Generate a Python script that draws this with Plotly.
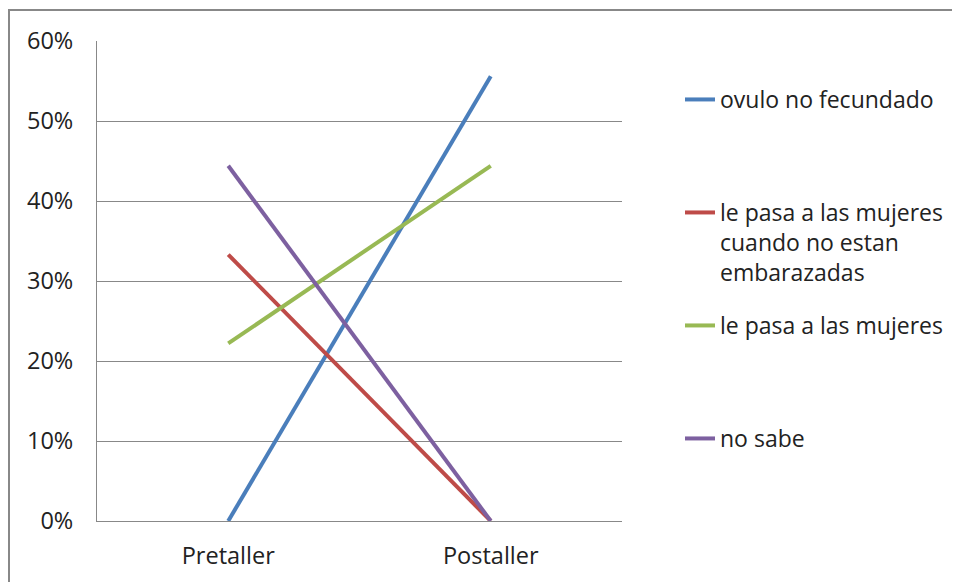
import plotly.graph_objects as go

categories = ["Pretaller", "Postaller"]
series_names = [
    "ovulo no fecundado",
    "le pasa a las mujeres<br>cuando no estan<br>embarazadas",
    "le pasa a las mujeres",
    "no sabe",
]
ovulo = [0.0, 0.556]
cuando_no = [0.333, 0.0]
le_pasa = [0.222, 0.444]
no_sabe = [0.444, 0.0]
series_values = [ovulo, cuando_no, le_pasa, no_sabe]
colors = ["#4A7EBB", "#BE4B48", "#98B954", "#7D60A0"]
y_ticks = [0, 0.1, 0.2, 0.3, 0.4, 0.5, 0.6]
y_tick_labels = ["0%", "10%", "20%", "30%", "40%", "50%", "60%"]

W, H = 960, 582
OFF = 8  # page body margin
FONT = "'Open Sans', sans-serif"

# plot area in page pixels
PL, PR, PT, PB = 97, 622, 41, 521
pw, ph = PR - PL, PB - PT

fig = go.Figure()
legend_names = ["legend", "legend2", "legend3", "legend4"]
legend_y_px = [98, 211, 324, 437]
for name, vals, col, lg in zip(series_names, series_values, colors, legend_names):
    fig.add_trace(go.Scatter(
        x=categories, y=vals, mode="lines", name=name,
        line=dict(color=col, width=4), legend=lg,
    ))

layout_legends = {}
for lg, ypx in zip(legend_names, legend_y_px):
    layout_legends[lg] = dict(
        xref="container", yref="container",
        x=(720 - 40 - OFF) / W, y=1 - (ypx - OFF - 20) / H,
        xanchor="left", yanchor="top",
        bgcolor="rgba(0,0,0,0)", borderwidth=0,
        font=dict(family=FONT, size=23, color="#222"),
        valign="top", tracegroupgap=0,
    )

fig.update_layout(
    width=W, height=H,
    margin=dict(l=PL - OFF, r=W - (PR - OFF), t=PT - OFF, b=H - (PB - OFF)),
    paper_bgcolor="white", plot_bgcolor="white",
    showlegend=True,
    font=dict(family=FONT, size=23, color="#222"),
    xaxis=dict(
        type="category", range=[-0.5, 1.5], showgrid=False,
        showline=True, linecolor="#888", linewidth=1,
        ticks="", tickfont=dict(family=FONT, size=23.5, color="#222"),
        ticklabelstandoff=14, zeroline=False,
    ),
    yaxis=dict(
        range=[0, 0.6], tickvals=y_ticks, ticktext=y_tick_labels,
        showgrid=True, gridcolor="#888", gridwidth=1,
        showline=True, linecolor="#888", linewidth=1,
        ticks="", tickfont=dict(family=FONT, size=23.5, color="#222"),
        ticklabelstandoff=18, zeroline=False,
    ),
    shapes=[dict(
        type="rect", xref="paper", yref="paper",
        x0=(9 - PL) / pw, x1=(990 - PL) / pw,
        y0=(PB - 620) / ph, y1=(PB - 10) / ph,
        line=dict(color="#888", width=2), fillcolor="rgba(0,0,0,0)", layer="below",
    )],
    **layout_legends,
)

fig.write_html("out.html")
